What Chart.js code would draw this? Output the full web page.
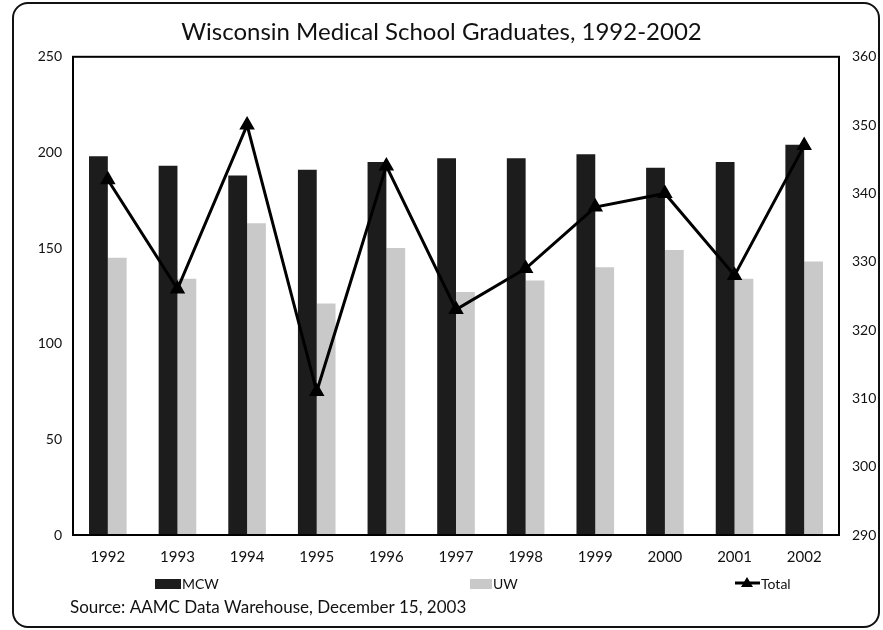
<!DOCTYPE html>
<html lang="en">
<head>
    <meta charset="UTF-8">
    <title>Wisconsin Medical School Graduates</title>
    <style>
        body {
            margin: 0;
            padding: 0;
            background-color: #ffffff;
        }
        .frame {
            position: absolute;
            left: 12px;
            top: 2px;
            width: 864px;
            height: 622px;
            border: 2px solid #111;
            border-radius: 16px;
        }
        .wrap {
            position: absolute;
            left: 0;
            top: 0;
            width: 883px;
            height: 630px;
        }
    </style>
</head>
<body>
    <div class="frame"></div>
    <div class="wrap"><canvas id="gradChart"></canvas></div>

    <script src="https://cdn.jsdelivr.net/npm/chart.js"></script>
    <script>
        // data
        const years = ['1992', '1993', '1994', '1995', '1996', '1997', '1998', '1999', '2000', '2001', '2002'];
        const mcw = [198, 193, 188, 191, 195, 197, 197, 199, 192, 195, 204];
        const uw = [145, 134, 163, 121, 150, 127, 133, 140, 149, 134, 143];
        const total = [342, 326, 350, 311, 344, 323, 329, 338, 340, 328, 347];
        const leftTicks = [0, 50, 100, 150, 200, 250];
        const rightTicks = [290, 300, 310, 320, 330, 340, 350, 360];

        const FONT = 'Lato, "DejaVu Sans", sans-serif';
        const MCW_COLOR = '#1c1c1c';
        const UW_COLOR = '#c9c9c9';

        // box round the plot area, plus legend and source line at the bottom
        const extras = {
            id: 'extras',
            afterDatasetsDraw(chart) {
                const ctx = chart.ctx;
                const a = chart.chartArea;
                ctx.save();
                ctx.strokeStyle = '#000';
                ctx.lineWidth = 2;
                ctx.strokeRect(a.left, a.top, a.right - a.left, a.bottom - a.top);
                ctx.restore();
            },
            afterDraw(chart) {
                const ctx = chart.ctx;
                ctx.save();
                ctx.font = '14px ' + FONT;
                ctx.fillStyle = '#111';
                ctx.textBaseline = 'middle';
                const ly = 584;

                // MCW
                ctx.fillStyle = MCW_COLOR;
                ctx.fillRect(155, ly - 5, 26, 10);
                ctx.fillStyle = '#111';
                ctx.fillText('MCW', 182, ly);

                // UW
                ctx.fillStyle = UW_COLOR;
                ctx.fillRect(470, ly - 5, 22, 10);
                ctx.fillStyle = '#111';
                ctx.fillText('UW', 493, ly);

                // Total
                ctx.strokeStyle = '#000';
                ctx.lineWidth = 3;
                ctx.beginPath();
                ctx.moveTo(735, ly - 1);
                ctx.lineTo(760, ly - 1);
                ctx.stroke();
                ctx.beginPath();
                ctx.moveTo(747, ly - 7);
                ctx.lineTo(753, ly + 3);
                ctx.lineTo(741, ly + 3);
                ctx.closePath();
                ctx.fillStyle = '#000';
                ctx.fill();
                ctx.fillStyle = '#111';
                ctx.fillText('Total', 761, ly);

                // source
                ctx.font = '17px ' + FONT;
                ctx.fillText('Source: AAMC Data Warehouse, December 15, 2003', 70, 608);
                ctx.restore();
            }
        };

        const ctx = document.getElementById('gradChart').getContext('2d');
        new Chart(ctx, {
            type: 'bar',
            data: {
                labels: years,
                datasets: [
                    {
                        type: 'line',
                        label: 'Total',
                        data: total,
                        yAxisID: 'y1',
                        borderColor: '#000',
                        backgroundColor: '#000',
                        borderWidth: 3,
                        tension: 0,
                        pointStyle: 'triangle',
                        pointRadius: 6,
                        pointBackgroundColor: '#000',
                        pointBorderColor: '#000',
                        order: 0
                    },
                    {
                        label: 'MCW',
                        data: mcw,
                        yAxisID: 'y',
                        backgroundColor: MCW_COLOR,
                        order: 1
                    },
                    {
                        label: 'UW',
                        data: uw,
                        yAxisID: 'y',
                        backgroundColor: UW_COLOR,
                        order: 1
                    }
                ]
            },
            options: {
                responsive: true,
                maintainAspectRatio: false,
                animation: false,
                categoryPercentage: 0.54,
                barPercentage: 1.0,
                layout: {
                    padding: { left: 0, right: 0, top: 0, bottom: 59 }
                },
                plugins: {
                    legend: { display: false },
                    tooltip: { enabled: false },
                    title: {
                        display: true,
                        text: 'Wisconsin Medical School Graduates, 1992-2002',
                        color: '#111',
                        font: { family: FONT, size: 24, weight: 'normal' },
                        padding: { top: 18, bottom: 10 }
                    }
                },
                scales: {
                    x: {
                        grid: { display: false },
                        border: { display: true, color: '#000', width: 2 },
                        ticks: {
                            color: '#111',
                            font: { family: FONT, size: 15 },
                            padding: 5
                        }
                    },
                    y: {
                        position: 'left',
                        min: 0,
                        max: 250,
                        afterBuildTicks(scale) {
                            scale.ticks = leftTicks.map(v => ({ value: v }));
                        },
                        afterFit(scale) { scale.width = 73; },
                        grid: { display: false },
                        border: { display: true, color: '#000', width: 2 },
                        ticks: {
                            color: '#111',
                            font: { family: FONT, size: 14 },
                            padding: 3
                        }
                    },
                    y1: {
                        position: 'right',
                        min: 290,
                        max: 360,
                        afterBuildTicks(scale) {
                            scale.ticks = rightTicks.map(v => ({ value: v }));
                        },
                        afterFit(scale) { scale.width = 44; },
                        grid: { display: false },
                        border: { display: true, color: '#000', width: 2 },
                        ticks: {
                            color: '#111',
                            font: { family: FONT, size: 14 },
                            padding: 5
                        }
                    }
                }
            },
            plugins: [extras]
        });
    </script>
</body>
</html>
